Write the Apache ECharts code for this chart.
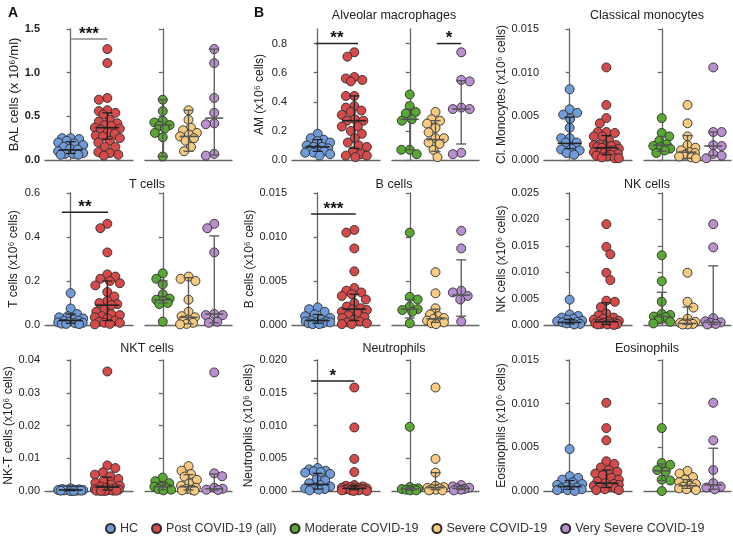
<!DOCTYPE html>
<html><head><meta charset="utf-8">
<script src="https://cdn.jsdelivr.net/npm/echarts@6/dist/echarts.min.js"></script>
<style>html,body{margin:0;padding:0;background:#fff}#c{width:733px;height:536px}</style>
</head><body><div id="c"></div><script>
const groupNames = ['HC','Post COVID-19 (all)','Moderate COVID-19','Severe COVID-19','Very Severe COVID-19'];
const groupColors = ['#6f9bd8','#d64a4a','#5aa834','#f6ca80','#b98fd0'];

// BAL cells (x10^6/ml)
const bal_hc = [0.25,0.25,0.24,0.22,0.2,0.19,0.17,0.15,0.13,0.12,0.1,0.08,0.07,0.07,0.06,0.06];
const bal_post = [1.27,1.11,0.71,0.69,0.57,0.56,0.54,0.52,0.46,0.44,0.42,0.4,0.39,0.37,0.36,0.35,0.32,0.3,0.28,0.27,0.25,0.22,0.2,0.15,0.15,0.09,0.08,0.06,0.05];
const bal_mod = [0.69,0.56,0.45,0.43,0.4,0.39,0.36,0.31,0.26,0.04];
const bal_sev = [0.57,0.46,0.37,0.34,0.31,0.29,0.27,0.25,0.22,0.15,0.1];
const bal_vs = [1.27,1.11,0.71,0.54,0.42,0.41,0.07,0.05];
const bal_stats = [[0.075,0.115,0.21],[0.24,0.37,0.54],[0.04,0.40,0.69],[0.1,0.27,0.57],[0.057,0.48,1.27]];

// Alveolar macrophages
const am_hc = [0.18,0.15,0.14,0.13,0.12,0.1,0.09,0.09,0.08,0.07,0.07,0.06,0.05,0.05,0.04,0.03];
const am_post = [0.74,0.71,0.57,0.56,0.55,0.54,0.44,0.44,0.37,0.36,0.34,0.33,0.31,0.28,0.27,0.27,0.23,0.23,0.2,0.18,0.15,0.12,0.1,0.09,0.06,0.04,0.03,0.03,0.02];
const am_mod = [0.45,0.37,0.33,0.32,0.28,0.27,0.07,0.07,0.04];
const am_sev = [0.33,0.28,0.27,0.25,0.22,0.19,0.15,0.15,0.12,0.11,0.07,0.02];
const am_vs = [0.74,0.55,0.54,0.36,0.35,0.35,0.05,0.04];
const am_stats = [[0.06,0.09,0.14],[0.08,0.27,0.44],[0.07,0.28,0.35],[0.06,0.14,0.27],[0.11,0.35,0.545]];

// Classical monocytes
const cm_hc = [0.0081,0.0058,0.0054,0.0052,0.0047,0.0037,0.0025,0.0025,0.002,0.002,0.0013,0.0012,0.0011,0.0008,0.0006];
const cm_post = [0.0106,0.0063,0.0048,0.0042,0.0032,0.0032,0.0031,0.0027,0.0027,0.0022,0.0018,0.0017,0.0017,0.0016,0.0016,0.0015,0.0014,0.0013,0.0011,0.0011,0.0009,0.0008,0.0008,0.0007,0.0006,0.0005,0.0004,0.0003,0.0002,0.0002];
const cm_mod = [0.0048,0.0031,0.0027,0.0022,0.0018,0.0016,0.0015,0.0013,0.0011,0.0008];
const cm_sev = [0.0063,0.0042,0.0027,0.0017,0.0014,0.0011,0.0009,0.0008,0.0006,0.0004,0.0003,0.0002];
const cm_vs = [0.0106,0.0032,0.0032,0.0017,0.0016,0.0007,0.0005,0.0002];
const cm_stats = [[0.0013,0.0019,0.0049],[0.0006,0.0014,0.0028],[0.001,0.0017,0.0027],[0.0002,0.0009,0.0028],[0.0005,0.0016,0.0032]];

// T cells
const t_hc = [0.145,0.075,0.05,0.04,0.035,0.03,0.025,0.02,0.02,0.015,0.012,0.01,0.008,0.006,0.005,0.004];
const t_post = [0.46,0.44,0.33,0.23,0.22,0.21,0.2,0.19,0.18,0.15,0.13,0.11,0.1,0.095,0.09,0.07,0.06,0.05,0.045,0.04,0.035,0.03,0.02,0.015,0.01,0.01,0.005,0.003];
const t_mod = [0.235,0.21,0.185,0.14,0.12,0.115,0.11,0.1,0.095,0.015];
const t_sev = [0.22,0.21,0.2,0.115,0.06,0.04,0.035,0.025,0.02,0.01,0.005,0.003];
const t_vs = [0.46,0.44,0.33,0.05,0.045,0.045,0.015,0.01];
const t_stats = [[0.008,0.02,0.05],[0.02,0.09,0.2],[0.1,0.115,0.2],[0.005,0.035,0.215],[0.01,0.05,0.405]];

// B cells
const b_hc = [0.002,0.0018,0.0015,0.0012,0.001,0.0008,0.0006,0.0005,0.0004,0.0004,0.0003,0.0003,0.0002,0.0002,0.0001,0.0001];
const b_post = [0.0108,0.0105,0.0087,0.0061,0.0042,0.0039,0.0037,0.0035,0.0033,0.0029,0.0025,0.0021,0.0019,0.0018,0.0017,0.0015,0.0013,0.0011,0.0009,0.0008,0.0006,0.0004,0.0003,0.0002,0.0001,0.0001];
const b_mod = [0.0105,0.0032,0.0029,0.0021,0.0018,0.0017,0.0015,0.0002];
const b_sev = [0.006,0.0036,0.0019,0.0012,0.001,0.0008,0.0007,0.0005,0.0004,0.0003,0.0002,0.0001];
const b_vs = [0.0107,0.0087,0.0039,0.0037,0.0033,0.0029,0.0004];
const b_stats = [[0.0002,0.0005,0.0012],[0.0005,0.0018,0.0035],[0.0008,0.0018,0.0029],[0.0003,0.0007,0.0018],[0.001,0.0034,0.0074]];

// NK cells
const nk_hc = [0.0048,0.002,0.0017,0.0014,0.0012,0.001,0.0008,0.0007,0.0006,0.0005,0.0004,0.0003,0.0002,0.0001];
const nk_post = [0.0191,0.0148,0.0134,0.0099,0.0085,0.0046,0.0044,0.0034,0.0022,0.0018,0.0014,0.0012,0.001,0.0008,0.0007,0.0006,0.0005,0.0004,0.0003,0.0003,0.0002,0.0002,0.0001,0.0001,0.0];
const nk_mod = [0.0132,0.0083,0.0044,0.0021,0.0019,0.0016,0.0015,0.0011,0.0006,0.0003];
const nk_sev = [0.0099,0.0044,0.0033,0.0012,0.0006,0.0004,0.0003,0.0003,0.0002,0.0001,0.0001];
const nk_vs = [0.0191,0.0147,0.0013,0.0007,0.0005,0.0004,0.0002,0.0001];
const nk_stats = [[0.0002,0.0005,0.001],[0.0001,0.0006,0.0042],[0.0004,0.0016,0.0062],[0.0001,0.0003,0.0034],[0.0001,0.0005,0.0112]];

// NKT cells
const nkt_hc = [0.0008,0.0006,0.0005,0.0004,0.0004,0.0003,0.0003,0.0002,0.0002,0.0002,0.0001,0.0001,0.0001,0.0,0.0];
const nkt_post = [0.0365,0.0078,0.007,0.0057,0.005,0.0045,0.0037,0.0031,0.0025,0.002,0.0016,0.0013,0.001,0.0008,0.0006,0.0005,0.0004,0.0003,0.0002,0.0002,0.0001,0.0001,0.0001,0.0,0.0];
const nkt_mod = [0.0041,0.003,0.0024,0.0015,0.0013,0.0008,0.0006,0.0004,0.0002];
const nkt_sev = [0.0076,0.0062,0.0052,0.0044,0.0034,0.0023,0.0016,0.001,0.0006,0.0004,0.0002,0.0001];
const nkt_vs = [0.0362,0.0054,0.0045,0.001,0.0007,0.0004,0.0003];
const nkt_stats = [[0.0001,0.0003,0.0005],[0.0003,0.0012,0.0042],[0.0004,0.0013,0.0026],[0.0003,0.0013,0.005],[0.0003,0.0007,0.0052]];

// Neutrophils
const neut_hc = [0.0035,0.0033,0.0031,0.003,0.0029,0.0028,0.0026,0.0018,0.0016,0.0012,0.0009,0.0007,0.0005,0.0004,0.0003,0.0002,0.0001];
const neut_post = [0.0158,0.0097,0.0049,0.0029,0.0009,0.0008,0.0007,0.0006,0.0005,0.0005,0.0004,0.0004,0.0003,0.0003,0.0002,0.0002,0.0002,0.0001,0.0001,0.0001,0.0,0.0];
const neut_mod = [0.0098,0.0006,0.0004,0.0003,0.0003,0.0002,0.0001,0.0001];
const neut_sev = [0.0158,0.0049,0.0028,0.0008,0.0006,0.0005,0.0004,0.0003,0.0002,0.0001,0.0001];
const neut_vs = [0.0009,0.0007,0.0005,0.0004,0.0003,0.0002,0.0001];
const neut_stats = [[0.0003,0.001,0.0027],[0.0002,0.0004,0.0008],[0.0001,0.0003,0.0005],[0.0002,0.0005,0.0028],[0.0002,0.0004,0.0007]];

// Eosinophils
const eos_hc = [0.0048,0.0017,0.0015,0.0013,0.001,0.0008,0.0007,0.0005,0.0004,0.0003,0.0003,0.0002,0.0001,0.0001,0.0];
const eos_post = [0.0101,0.0072,0.0058,0.0034,0.0031,0.0027,0.0024,0.0022,0.002,0.0018,0.0015,0.0013,0.0011,0.0009,0.0008,0.0007,0.0006,0.0005,0.0004,0.0003,0.0002,0.0001,0.0001];
const eos_mod = [0.0072,0.0032,0.003,0.0024,0.0022,0.0013,0.0012,0.0];
const eos_sev = [0.0023,0.002,0.0016,0.0013,0.001,0.0008,0.0006,0.0005,0.0004,0.0003,0.0002,0.0001];
const eos_vs = [0.0101,0.0058,0.0024,0.0009,0.0005,0.0004,0.0002];
const eos_stats = [[0.0002,0.0005,0.0012],[0.0004,0.0009,0.0024],[0.0012,0.0023,0.0031],[0.0003,0.0006,0.0013],[0.0002,0.0007,0.0049]];

// significance bars: [side, fromCat, toCat, yValue, label]
const bal_sig = [['L',0,1,1.385,'***']];
const am_sig = [['L',-0.05,1.1,0.8,'**'],['R',1.05,2.0,0.8,'*']];
const t_sig = [['L',-0.24,1.02,0.513,'**']];
const b_sig = [['L',-0.18,1.04,0.0126,'***']];
const neut_sig = [['L',-0.18,1.0,0.0168,'*']];

const panels = [
 {title:null, yName:'BAL cells (x 10⁶/ml)', nameSize:13, max:1.5, ticks:[0,0.5,1.0,1.5], dec:1, bold:true, col:0, row:0, gap:24, data:[bal_hc,bal_post,bal_mod,bal_sev,bal_vs], stats:bal_stats, sig:bal_sig},
 {title:'Alveolar macrophages', yName:'AM (x10⁶ cells)', max:0.9, ticks:[0,0.2,0.4,0.6,0.8], dec:1, col:1, row:0, gap:26, data:[am_hc,am_post,am_mod,am_sev,am_vs], stats:am_stats, sig:am_sig},
 {title:'Classical monocytes', yName:'Cl. Monocytes (x10⁶ cells)', max:0.015, ticks:[0,0.005,0.01,0.015], dec:3, col:2, row:0, gap:33, data:[cm_hc,cm_post,cm_mod,cm_sev,cm_vs], stats:cm_stats, sig:[]},
 {title:'T cells', yName:'T cells (x10⁶ cells)', max:0.6, ticks:[0,0.2,0.4,0.6], dec:1, col:0, row:1, gap:25, data:[t_hc,t_post,t_mod,t_sev,t_vs], stats:t_stats, sig:t_sig},
 {title:'B cells', yName:'B cells (x10⁶ cells)', max:0.015, ticks:[0,0.005,0.01,0.015], dec:3, col:1, row:1, gap:36, data:[b_hc,b_post,b_mod,b_sev,b_vs], stats:b_stats, sig:b_sig},
 {title:'NK cells', yName:'NK cells (x10⁶ cells)', max:0.025, ticks:[0,0.005,0.01,0.015,0.02,0.025], dec:3, col:2, row:1, gap:34, data:[nk_hc,nk_post,nk_mod,nk_sev,nk_vs], stats:nk_stats, sig:[]},
 {title:'NKT cells', yName:'NK-T cells (x10⁶ cells)', max:0.04, ticks:[0,0.01,0.02,0.03,0.04], dec:2, col:0, row:2, gap:30, data:[nkt_hc,nkt_post,nkt_mod,nkt_sev,nkt_vs], stats:nkt_stats, sig:[]},
 {title:'Neutrophils', yName:'Neutrophils (x10⁶ cells)', max:0.02, ticks:[0,0.005,0.01,0.015,0.02], dec:3, col:1, row:2, gap:37, data:[neut_hc,neut_post,neut_mod,neut_sev,neut_vs], stats:neut_stats, sig:neut_sig},
 {title:'Eosinophils', yName:'Eosinophils (x10⁶ cells)', max:0.015, ticks:[0,0.005,0.01,0.015], dec:3, col:2, row:2, gap:33, data:[eos_hc,eos_post,eos_mod,eos_sev,eos_vs], stats:eos_stats, sig:[]}
];

// layout
const colAxisX = [45, 292, 544];
const colTitleX = [142, 389, 642];
const rowTop = [29, 193, 360];
const rowBottom = [160, 325, 491];
const titleY = [4, 173, 337];
const subW = 88, subGap = 100;
const xRangeL = [-0.7, 1.7], xRangeR = [-0.69, 2.69];
const FONT = 'Liberation Sans, Arial, sans-serif';
const AXC = '#666';

function swarm(values, pxY, maxHalf, D) {
  const order = values.map((v,i)=>i).sort((a,b)=>values[b]-values[a]);
  const placed = [], out = new Array(values.length).fill(0);
  order.forEach((i,k)=>{
    const y = values[i]*pxY;
    let chosen = null, bestX = 0, bestD = -1;
    for (let m=0; m<=maxHalf && chosen===null; m+=0.5) {
      const cands = m===0 ? [0] : (k%2 ? [-m, m] : [m, -m]);
      for (const c of cands) {
        let md = Infinity;
        for (const p of placed) { const d = Math.hypot(p[0]-c, p[1]-y); if (d<md) md=d; }
        if (md >= D) { chosen = c; break; }
        if (md > bestD + 0.01) { bestD = md; bestX = c; }
      }
    }
    const x = chosen===null ? bestX : chosen;
    placed.push([x,y]); out[i] = x;
  });
  return out;
}

const grids=[], xAxes=[], yAxes=[], series=[], titles=[];
titles.push({text:'A', left:3, top:1, textStyle:{fontSize:14, fontWeight:'bold', color:'#111', fontFamily:FONT}});
titles.push({text:'B', left:249, top:1, textStyle:{fontSize:14, fontWeight:'bold', color:'#111', fontFamily:FONT}});

panels.forEach((p, pi)=>{
  const top = rowTop[p.row], h = rowBottom[p.row]-rowTop[p.row];
  const ax = colAxisX[p.col];
  if (p.title) titles.push({text:p.title, left:colTitleX[p.col], top:titleY[p.row], textAlign:'center', textStyle:{fontSize:12.5, fontWeight:'normal', color:'#222', fontFamily:FONT}});
  [0,1].forEach(side=>{
    const gi = grids.length;
    const left = ax + side*subGap;
    grids.push({left:left, top:top, width:subW-(side?1:0), height:h, containLabel:false});
    const xr = side ? xRangeR : xRangeL;
    xAxes.push({gridIndex:gi, type:'value', min:xr[0], max:xr[1], axisLine:{show:true, onZero:false, lineStyle:{color:AXC, width:1.3}}, axisTick:{show:false}, axisLabel:{show:false}, splitLine:{show:false}});
    yAxes.push({gridIndex:gi, type:'value', min:0, max:p.max,
      name: side? '' : p.yName, nameLocation:'middle', nameGap:p.gap, nameRotate:90,
      nameTextStyle:{fontSize:p.nameSize||12, color:'#222', fontFamily:FONT},
      axisLine:{show:true, lineStyle:{color:AXC, width:1.3}},
      axisTick:{show:true, length:4, customValues:p.ticks, lineStyle:{color:AXC, width:1.3}},
      axisLabel:{show:!side, customValues:p.ticks, fontSize:11, color:'#222', fontFamily:FONT, fontWeight:p.bold?'bold':'normal', margin:5, formatter:v=>Number(v).toFixed(p.dec)},
      splitLine:{show:false}});
    const pxY = h/p.max;
    const pxX = (subW)/(xr[1]-xr[0]);
    const gIdx = side ? [2,3,4] : [0,1];
    const maxHalf = side ? 8.5 : 12.5;
    gIdx.forEach((g, ci)=>{
      const vals = p.data[g];
      const off = swarm(vals, pxY, maxHalf, 8.2);
      series.push({type:'scatter', name:groupNames[g], xAxisIndex:gi, yAxisIndex:gi, clip:false, z:3,
        symbol:'circle', symbolSize:9,
        itemStyle:{color:groupColors[g], borderColor:'#2b2b2b', borderWidth:0.9, opacity:1},
        emphasis:{disabled:true},
        data: vals.map((v,i)=>[ci + off[i]/pxX, v])});
    });
    const statData = gIdx.map((g,ci)=>[ci, p.stats[g][0], p.stats[g][1], p.stats[g][2]]);
    const lc = side ? '#555' : '#222';
    const mw = side ? 9 : 12;
    series.push({type:'custom', xAxisIndex:gi, yAxisIndex:gi, z:5, silent:true, clip:false,
      data: statData,
      renderItem:(params, api)=>{
        const x = api.value(0);
        const p1 = api.coord([x, api.value(1)]), pm = api.coord([x, api.value(2)]), p3 = api.coord([x, api.value(3)]);
        const st = {stroke:lc, lineWidth:1.3};
        return {type:'group', children:[
          {type:'line', shape:{x1:pm[0], y1:p1[1], x2:pm[0], y2:p3[1]}, style:st},
          {type:'line', shape:{x1:pm[0]-5, y1:p1[1], x2:pm[0]+5, y2:p1[1]}, style:st},
          {type:'line', shape:{x1:pm[0]-5, y1:p3[1], x2:pm[0]+5, y2:p3[1]}, style:st},
          {type:'line', shape:{x1:pm[0]-mw, y1:pm[1], x2:pm[0]+mw, y2:pm[1]}, style:{stroke:lc, lineWidth:1.6}}
        ]};
      }});
    p.sig.filter(s=>(s[0]==='R')===(side===1)).forEach(s=>{
      series.push({type:'custom', xAxisIndex:gi, yAxisIndex:gi, z:6, silent:true, clip:false,
        data:[[s[1], s[3], s[2]]],
        renderItem:(params, api)=>{
          const a = api.coord([api.value(0), api.value(1)]), b = api.coord([api.value(2), api.value(1)]);
          return {type:'group', children:[
            {type:'line', shape:{x1:a[0], y1:a[1], x2:b[0], y2:b[1]}, style:{stroke: pi===0 ? '#888' : '#222', lineWidth:1.5}},
            {type:'text', x:(a[0]+b[0])/2, y:a[1]-5, style:{text:s[4], fontSize:17, fontWeight:'bold', fill:'#111', align:'center', verticalAlign:'middle', fontFamily:FONT}}
          ]};
        }});
    });
  });
});

const chart = echarts.init(document.getElementById('c'), null, {renderer:'canvas'});
chart.setOption({
  animation:false,
  backgroundColor:'#fff',
  title: titles,
  grid: grids, xAxis: xAxes, yAxis: yAxes, series: series,
  legend: {data: groupNames, left:100, top:517, icon:'circle', itemWidth:9, itemHeight:9, itemGap:13,
    textStyle:{fontSize:12.5, color:'#333', fontFamily:FONT}}
});
</script></body></html>
